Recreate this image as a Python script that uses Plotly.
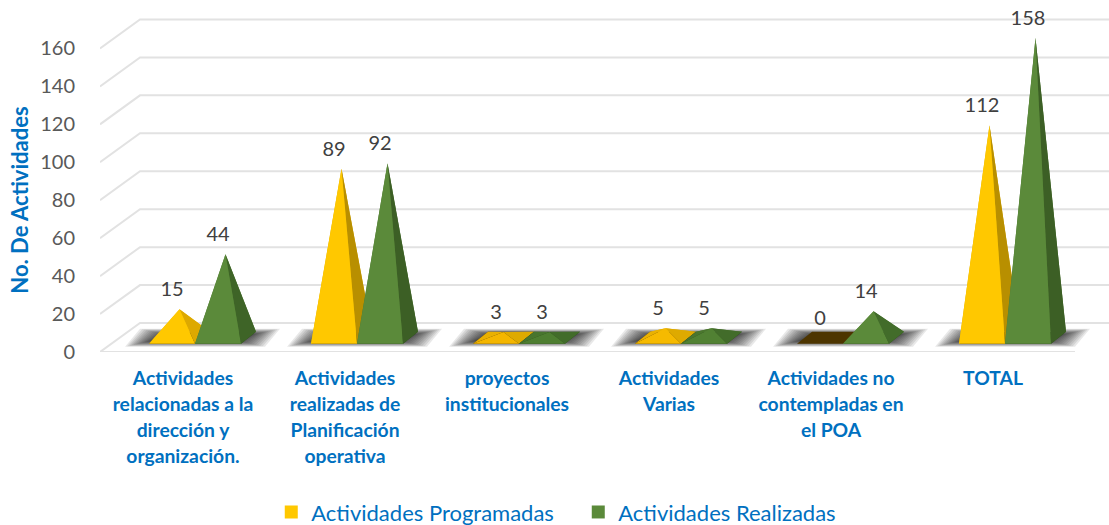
import plotly.graph_objects as go

categories = [
    "Actividades<br>relacionadas a la<br>dirección y<br>organización.",
    "Actividades<br>realizadas de<br>Planificación<br>operativa",
    "proyectos<br>institucionales",
    "Actividades<br>Varias",
    "Actividades no<br>contempladas en<br>el POA",
    "TOTAL",
]
programadas = [15, 89, 3, 5, 0, 112]
realizadas = [44, 92, 3, 5, 14, 158]
y_ticks = [0, 20, 40, 60, 80, 100, 120, 140, 160]
series_names = ["Actividades Programadas", "Actividades Realizadas"]
y_title = "No. De Actividades"

BLUE = "#0070C0"
FONT = "Lato"
PX_X = 162.0          # pixels per category
PX_Y = 1.9            # pixels per value unit
BAR_W = 46 / PX_X
DEPTH_X = 15 / PX_X
DEPTH_Y = 12 / PX_Y
BASE_Y = 8.3 / PX_Y
WALL_X = 40 / PX_X
WALL_Y = 29 / PX_Y
LEFT = 100
BOTTOM = 352.5


def rgb(c):
    return f"rgb({c[0]:.0f},{c[1]:.0f},{c[2]:.0f})"


def mix(a, b, t):
    return tuple(a[k] + (b[k] - a[k]) * t for k in range(3))


PALETTE = [
    {"front": (255, 200, 0), "front_low": (240, 176, 0), "side": (184, 143, 0),
     "side_low": (222, 170, 0), "base": (77, 53, 0)},
    {"front": (91, 138, 58), "front_low": (74, 122, 46), "side": (60, 95, 37),
     "side_low": (66, 108, 42), "base": (40, 70, 25)},
]

fig = go.Figure()


def poly(xs, ys, color):
    fig.add_trace(go.Scatter(
        x=xs + xs[:1], y=ys + ys[:1], mode="lines", fill="toself", fillcolor=color,
        line=dict(width=0, color="rgba(0,0,0,0)"), showlegend=False, hoverinfo="skip"))


x_right = (1109 - 195) / PX_X
# walls and floor gridlines
for t in y_ticks:
    fig.add_trace(go.Scatter(
        x=[-95 / PX_X, -95 / PX_X + WALL_X, x_right],
        y=[t, t + WALL_Y, t + WALL_Y],
        mode="lines", line=dict(color="#E2E2E2", width=2),
        showlegend=False, hoverinfo="skip"))
fig.add_trace(go.Scatter(
    x=[-95 / PX_X, (1075 - 195) / PX_X], y=[0, 0], mode="lines",
    line=dict(color="#E2E2E2", width=2), showlegend=False, hoverinfo="skip"))

# floor shadows
LAYERS = 14
for i in range(len(categories)):
    for k in range(LAYERS):
        e = 1 - k / (LAYERS - 1)
        ex_l = (-4 + 28 * e) / PX_X
        ex_r = (-6 + 30 * e) / PX_X
        ey = (-3.5 + 6.5 * e) / PX_Y
        x0 = i - BAR_W - ex_l
        x1 = i + BAR_W + ex_r
        y0 = BASE_Y - ey
        y1 = BASE_Y + DEPTH_Y + ey
        poly([x0, x1, x1 + DEPTH_X, x0 + DEPTH_X], [y0, y0, y1, y1], "rgba(0,0,0,0.09)")

# pyramids
for s, values in enumerate([programadas, realizadas]):
    pal = PALETTE[s]
    for i, v in enumerate(values):
        x0 = i - BAR_W + s * BAR_W
        x1 = x0 + BAR_W
        b0 = BASE_Y
        b1 = BASE_Y + DEPTH_Y
        ax = x0 + BAR_W / 2 + DEPTH_X / 2
        ay = (b0 + b1) / 2 + v
        t_f = min(v / 12.0, 1)
        t_s = min(max(v - 14, 0) / 50.0, 1)
        front = mix(pal["front_low"], pal["front"], t_f)
        side = mix(pal["side_low"], pal["side"], t_s)
        left = mix(front, side, 0.5)
        poly([x0, x1, x1 + DEPTH_X, x0 + DEPTH_X], [b0, b0, b1, b1], rgb(pal["base"]))
        if v == 0:
            continue
        poly([x0 + DEPTH_X, x1 + DEPTH_X, ax], [b1, b1, ay], rgb(left))
        poly([x0, x0 + DEPTH_X, ax], [b0, b1, ay], rgb(left))
        poly([x1, x1 + DEPTH_X, ax], [b0, b1, ay], rgb(side))
        poly([x0, x1, ax], [b0, b0, ay], rgb(front))

# data labels
for s, values in enumerate([programadas, realizadas]):
    fig.add_trace(go.Scatter(
        x=[i - BAR_W / 2 + s * BAR_W for i in range(len(values))],
        y=[v + BASE_Y + DEPTH_Y / 2 + 18 / PX_Y for v in values],
        text=[str(v) for v in values], mode="text", textposition="middle center",
        textfont=dict(family=FONT, size=20, color="#404040"),
        showlegend=False, hoverinfo="skip"))

# legend entries
for name, pal in zip(series_names, PALETTE):
    fig.add_trace(go.Scatter(
        x=[None], y=[None], mode="markers", name=name,
        marker=dict(symbol="square", size=13, color=rgb(pal["front"]))))

SPAN = '<span style="font-size:19.3px">'
fig.update_layout(
    width=1109, height=525, autosize=False,
    paper_bgcolor="white", plot_bgcolor="white",
    margin=dict(l=LEFT, r=0, t=0, b=525 - BOTTOM, pad=0, autoexpand=False),
    font=dict(family=FONT),
    xaxis=dict(
        range=[(LEFT - 195) / PX_X, x_right], showgrid=False, zeroline=False, showline=False,
        tickmode="array", tickvals=[i - 12 / PX_X for i in range(len(categories))],
        ticktext=[SPAN + c.replace("<br>", "</span><br>" + SPAN) + "</span>" for c in categories],
        tickfont=dict(family=FONT, size=20, color=BLUE, weight="bold"),
        ticks="outside", ticklen=8, tickcolor="rgba(0,0,0,0)", tickangle=0),
    yaxis=dict(
        range=[0, BOTTOM / PX_Y], showgrid=False, zeroline=False, showline=False,
        tickmode="array", tickvals=y_ticks, ticktext=[str(t) for t in y_ticks],
        tickfont=dict(family=FONT, size=20, color="#595959"),
        ticks="outside", ticklen=20, tickcolor="rgba(0,0,0,0)"),
    annotations=[dict(text=y_title, textangle=-90, xref="paper", yref="paper",
                      x=-80 / 1009, y=1 - 201 / BOTTOM, xanchor="center", yanchor="middle",
                      showarrow=False,
                      font=dict(family=FONT, size=22, color=BLUE, weight="bold"))],
    legend=dict(orientation="h", x=0.474, xanchor="center", xref="paper", y=-0.455, yanchor="middle",
                yref="paper",
                font=dict(family=FONT, size=22, color=BLUE), entrywidth=262, entrywidthmode="pixels",
                traceorder="normal", bgcolor="rgba(0,0,0,0)"),
    showlegend=True,
)

fig.write_html("out.html", config=dict(displayModeBar=False),
               post_script="document.body.style.margin='0';document.body.style.overflow='hidden';")
